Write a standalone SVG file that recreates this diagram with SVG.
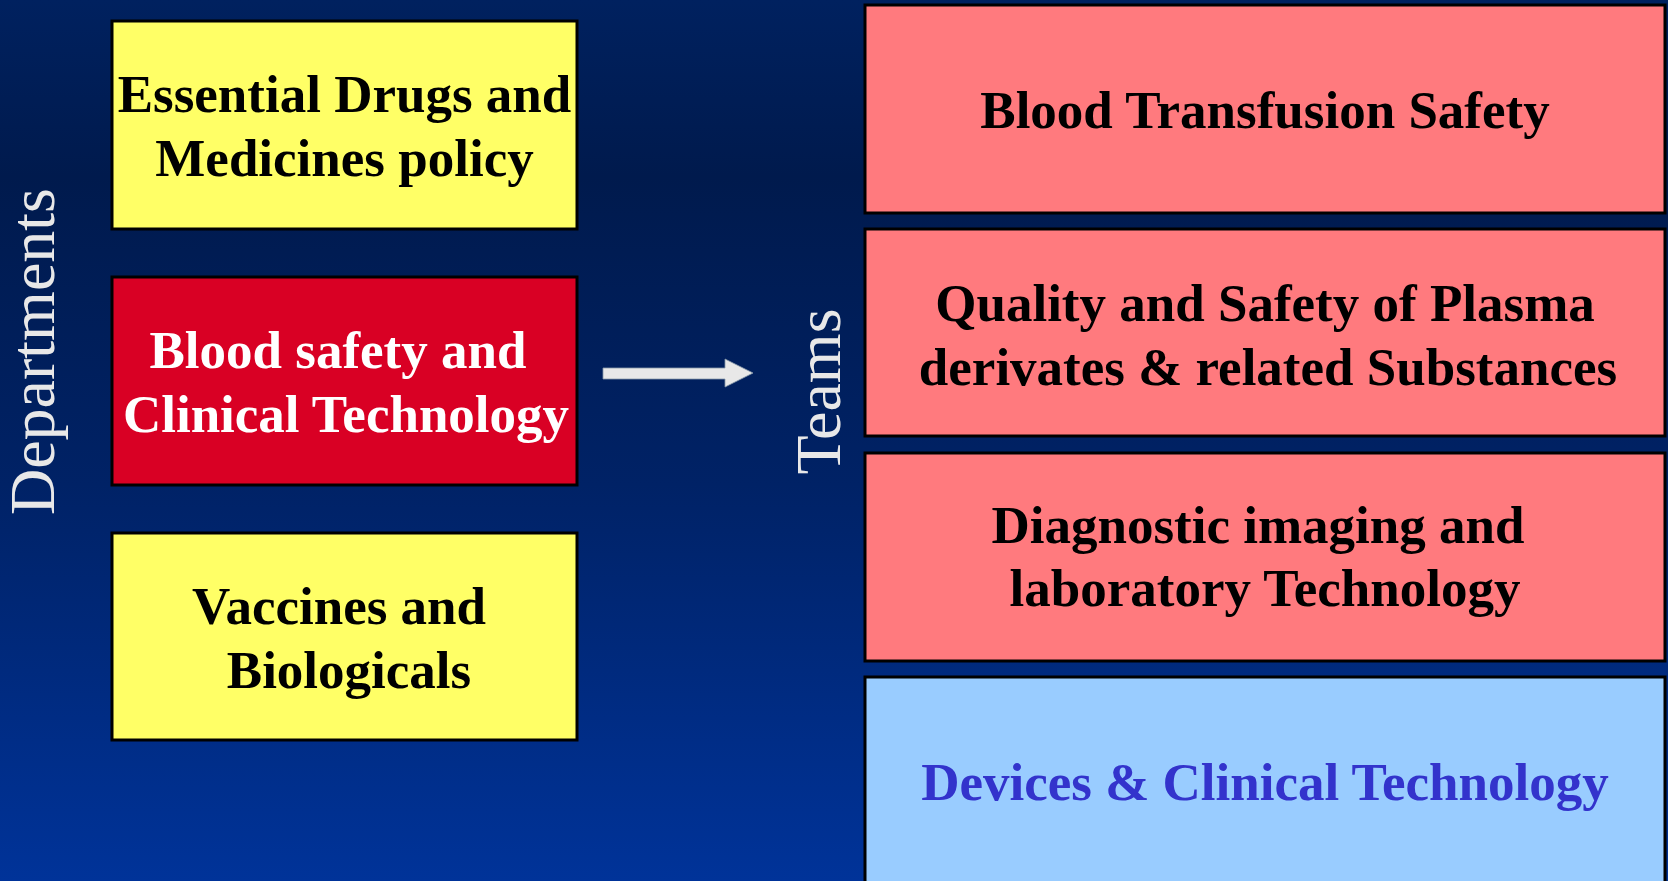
<svg xmlns="http://www.w3.org/2000/svg" width="1668" height="881" viewBox="0 0 1668 881">
<defs>
<linearGradient id="bg" x1="0" y1="0" x2="0" y2="1">
<stop offset="0" stop-color="#00215f"/>
<stop offset="0.2" stop-color="#001a4d"/>
<stop offset="0.55" stop-color="#002266"/>
<stop offset="1" stop-color="#003399"/>
</linearGradient>
<style>
.box{stroke:#000;stroke-width:3}
.y{fill:#ffff66}
.r{fill:#d90024}
.p{fill:#ff7a7e}
.b{fill:#99ccff}
.t{font-family:"Liberation Serif","Times New Roman",serif;font-weight:bold;font-size:53px;text-anchor:middle}
.side{font-family:"Liberation Serif","Times New Roman",serif;font-size:64px;fill:#e8e8e8;text-anchor:middle}
</style>
</defs>
<rect x="0" y="0" width="1668" height="881" fill="url(#bg)"/>
<g id="dept-label"><text class="side" transform="translate(54,351.5) rotate(-90)">Departments</text></g>
<g id="teams-label"><text class="side" transform="translate(840,391.5) rotate(-90)">Teams</text></g>
<g id="essential-drugs">
<rect class="box y" x="112" y="21" width="465" height="208"/>
<text class="t" x="344.5" y="112">Essential Drugs and</text>
<text class="t" x="344.5" y="176">Medicines policy</text>
</g>
<g id="blood-safety">
<rect class="box r" x="112" y="277" width="465" height="208"/>
<text class="t" x="338" y="368" fill="#ffffff">Blood safety and</text>
<text class="t" x="346" y="432" fill="#ffffff">Clinical Technology</text>
</g>
<g id="vaccines">
<rect class="box y" x="112" y="533" width="465" height="207"/>
<text class="t" x="339" y="624">Vaccines and</text>
<text class="t" x="349" y="688">Biologicals</text>
</g>
<g id="blood-transfusion">
<rect class="box p" x="865" y="5" width="800" height="208"/>
<text class="t" x="1265" y="128">Blood Transfusion Safety</text>
</g>
<g id="plasma">
<rect class="box p" x="865" y="229" width="800" height="207"/>
<text class="t" x="1265" y="321">Quality and Safety of Plasma</text>
<text class="t" x="1268" y="385">derivates &amp; related Substances</text>
</g>
<g id="diagnostic">
<rect class="box p" x="865" y="453" width="800" height="208"/>
<text class="t" x="1258" y="543">Diagnostic imaging and</text>
<text class="t" x="1265" y="606">laboratory Technology</text>
</g>
<g id="devices">
<rect class="box b" x="865" y="677" width="800" height="210"/>
<text class="t" x="1265" y="800" fill="#3333cc">Devices &amp; Clinical Technology</text>
</g>
<g id="connectors">
<polygon points="603,368 725,368 725,359 753,373 725,387 725,379 603,379" fill="#e8e8e8" stroke="#8899aa" stroke-width="0.8"/>
</g>
</svg>
